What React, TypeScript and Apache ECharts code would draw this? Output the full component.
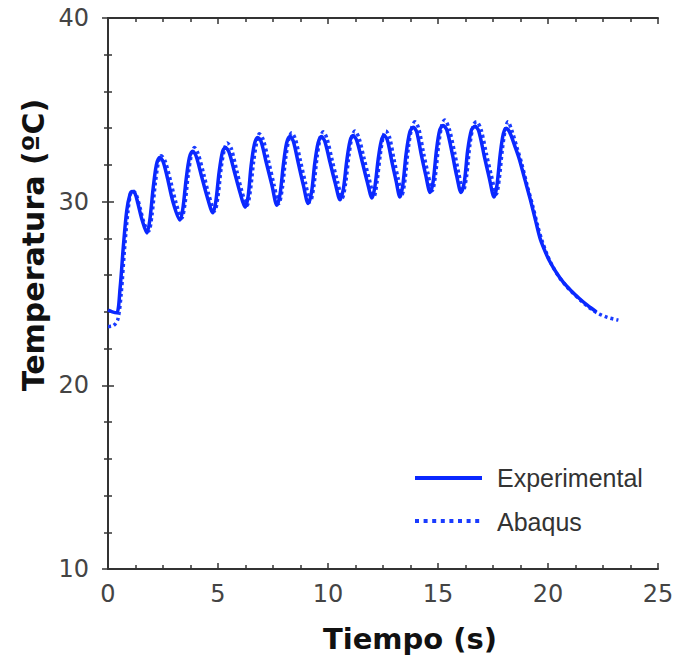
import React, { useEffect, useRef } from "react";
import * as echarts from "echarts";

const expTime = [0, 0.2, 0.4, 0.55, 0.7, 0.85, 1.0, 1.1, 1.23, 1.36, 1.55, 1.77, 1.9, 2.05, 2.2, 2.35, 2.5, 2.7, 2.95, 3.27, 3.4, 3.55, 3.7, 3.85, 4.0, 4.25, 4.5, 4.77, 4.9, 5.05, 5.2, 5.33, 5.5, 5.75, 6.0, 6.23, 6.37, 6.5, 6.65, 6.8, 6.95, 7.2, 7.45, 7.68, 7.82, 7.97, 8.12, 8.27, 8.42, 8.65, 8.88, 9.1, 9.25, 9.4, 9.55, 9.7, 9.85, 10.1, 10.33, 10.55, 10.7, 10.85, 11.0, 11.14, 11.3, 11.55, 11.78, 12.0, 12.13, 12.28, 12.42, 12.55, 12.7, 12.9, 13.1, 13.27, 13.4, 13.55, 13.72, 13.88, 14.03, 14.25, 14.45, 14.64, 14.78, 14.93, 15.08, 15.23, 15.4, 15.65, 15.85, 16.05, 16.2, 16.35, 16.52, 16.68, 16.85, 17.1, 17.33, 17.55, 17.68, 17.83, 17.97, 18.1, 18.25, 18.5, 18.7, 18.95, 19.2, 19.45, 19.64, 19.9, 20.1, 20.4, 20.7, 21.05, 21.45, 21.8, 22.2];
const expTemp = [24.1, 24.0, 23.95, 25.3, 27.6, 29.5, 30.4, 30.55, 30.45, 29.9, 29.0, 28.3, 29.0, 30.7, 32.0, 32.4, 32.2, 31.3, 30.0, 29.0, 29.6, 31.2, 32.4, 32.75, 32.5, 31.4, 30.3, 29.4, 30.0, 31.6, 32.7, 32.95, 32.7, 31.6, 30.5, 29.7, 30.3, 31.9, 33.1, 33.5, 33.3, 32.1, 30.9, 29.8, 30.4, 32.0, 33.2, 33.55, 33.3, 32.1, 30.9, 29.9, 30.5, 32.1, 33.2, 33.55, 33.3, 32.1, 31.0, 30.1, 30.7, 32.2, 33.3, 33.6, 33.35, 32.2, 31.1, 30.2, 30.8, 32.3, 33.3, 33.6, 33.35, 32.2, 31.1, 30.25, 30.9, 32.6, 33.8, 34.05, 33.8, 32.5, 31.4, 30.5, 31.1, 32.8, 33.9, 34.15, 33.9, 32.6, 31.4, 30.5, 31.1, 32.8, 33.9, 34.1, 33.85, 32.5, 31.3, 30.25, 30.9, 32.6, 33.7, 34.0, 33.8, 33.0, 32.3, 31.2, 30.1, 28.9, 28.0, 27.2, 26.7, 26.1, 25.6, 25.15, 24.7, 24.35, 24.0];

const abqTime = [0, 0.25, 0.45, 0.6, 0.75, 0.9, 1.02, 1.12, 1.28, 1.45, 1.65, 1.85, 2.0, 2.15, 2.3, 2.42, 2.6, 2.85, 3.1, 3.35, 3.5, 3.65, 3.8, 3.93, 4.1, 4.35, 4.6, 4.85, 5.0, 5.15, 5.3, 5.42, 5.6, 5.85, 6.1, 6.32, 6.47, 6.62, 6.77, 6.88, 7.05, 7.3, 7.55, 7.77, 7.92, 8.07, 8.22, 8.35, 8.52, 8.75, 8.98, 9.2, 9.35, 9.5, 9.65, 9.78, 9.95, 10.2, 10.43, 10.65, 10.8, 10.95, 11.1, 11.22, 11.4, 11.65, 11.88, 12.1, 12.23, 12.38, 12.52, 12.63, 12.8, 13.0, 13.2, 13.37, 13.5, 13.65, 13.82, 13.95, 14.12, 14.35, 14.55, 14.74, 14.88, 15.03, 15.18, 15.3, 15.5, 15.75, 15.95, 16.15, 16.3, 16.45, 16.62, 16.75, 16.95, 17.2, 17.43, 17.65, 17.78, 17.93, 18.07, 18.18, 18.35, 18.6, 18.8, 19.05, 19.3, 19.55, 19.75, 20.0, 20.2, 20.5, 20.8, 21.15, 21.55, 21.9, 22.3, 22.7, 23.2];
const abqTemp = [23.2, 23.25, 23.6, 25.0, 27.4, 29.4, 30.4, 30.6, 30.4, 29.7, 28.8, 28.4, 29.3, 31.0, 32.2, 32.5, 32.2, 31.1, 29.9, 29.1, 29.9, 31.5, 32.6, 32.95, 32.6, 31.5, 30.3, 29.5, 30.3, 31.9, 32.9, 33.2, 32.9, 31.7, 30.5, 29.8, 30.6, 32.2, 33.3, 33.7, 33.4, 32.2, 30.9, 29.9, 30.7, 32.3, 33.4, 33.75, 33.4, 32.2, 31.0, 30.0, 30.8, 32.4, 33.5, 33.8, 33.45, 32.2, 31.1, 30.2, 31.0, 32.5, 33.6, 33.85, 33.5, 32.3, 31.2, 30.3, 31.1, 32.6, 33.6, 33.85, 33.5, 32.3, 31.2, 30.4, 31.2, 32.9, 34.1, 34.35, 34.0, 32.6, 31.5, 30.6, 31.4, 33.1, 34.2, 34.45, 34.0, 32.7, 31.5, 30.6, 31.4, 33.1, 34.2, 34.35, 33.95, 32.6, 31.4, 30.4, 31.2, 32.9, 34.0, 34.35, 33.9, 32.9, 32.1, 30.9, 29.8, 28.6, 27.8, 27.0, 26.5, 25.9, 25.45, 25.0, 24.55, 24.2, 23.9, 23.7, 23.55];

const seriesNames = ["Experimental", "Abaqus"];
const xTitle = "Tiempo (s)";
const yTitle = "Temperatura (ºC)";

const zip = (a: number[], b: number[]) => a.map((v, i) => [v, b[i]]);

export default function App() {
  const ref = useRef<HTMLDivElement>(null);
  useEffect(() => {
    document.body.style.margin = "0";
    const chart = echarts.init(ref.current!, null, { renderer: "svg" });
    const axisLine = { show: true, lineStyle: { color: "#333", width: 2 } };
    const tickStyle = { color: "#333", width: 1.5 };
    const labelStyle = { fontFamily: "DejaVu Sans", fontSize: 24, color: "#444" };
    const xBase = { type: "value", min: 0, max: 25, interval: 5, splitLine: { show: false }, axisLine };
    const yBase = { type: "value", min: 10, max: 40, interval: 10, splitLine: { show: false }, axisLine };
    chart.setOption({
      animation: false,
      backgroundColor: "#fff",
      grid: { left: 108, right: 25, top: 18, bottom: 92 },
      xAxis: [
        {
          ...xBase,
          position: "bottom",
          axisTick: { show: true, inside: true, length: 6, lineStyle: tickStyle },
          minorTick: { show: true, splitNumber: 4, length: 4, lineStyle: tickStyle },
          axisLabel: { ...labelStyle, margin: 13 },
        },
        {
          ...xBase,
          position: "top",
          axisTick: { show: true, inside: true, length: 6, lineStyle: tickStyle },
          minorTick: { show: true, splitNumber: 4, length: 4, lineStyle: tickStyle },
          axisLabel: { show: false },
        },
      ],
      yAxis: [
        {
          ...yBase,
          position: "left",
          axisTick: { show: true, inside: true, length: 6, lineStyle: tickStyle },
          minorTick: { show: true, splitNumber: 5, length: 4, lineStyle: tickStyle },
          axisLabel: { ...labelStyle, margin: 19 },
        },
        {
          ...yBase,
          position: "right",
          axisTick: { show: true, inside: true, length: 6, lineStyle: tickStyle },
          minorTick: { show: true, splitNumber: 5, length: 4, lineStyle: tickStyle },
          axisLabel: { show: false },
        },
      ],
      graphic: [
        {
          type: "text",
          x: 410,
          y: 639,
          style: {
            text: xTitle,
            fontFamily: "DejaVu Sans",
            fontWeight: "bold",
            fontSize: 29,
            fill: "#111",
            align: "center",
            verticalAlign: "middle",
          },
        },
        {
          type: "text",
          x: 33,
          y: 245,
          rotation: Math.PI / 2,
          style: {
            text: yTitle,
            fontFamily: "DejaVu Sans",
            fontWeight: "bold",
            fontSize: 30,
            fill: "#111",
            align: "center",
            verticalAlign: "middle",
          },
        },
        {
          type: "line",
          shape: { x1: 415, y1: 478, x2: 482, y2: 478 },
          style: { stroke: "#0a28ff", lineWidth: 4 },
        },
        {
          type: "line",
          shape: { x1: 415, y1: 521, x2: 482, y2: 521 },
          style: { stroke: "#1a3cff", lineWidth: 4, lineDash: [4, 4.6] },
        },
        {
          type: "text",
          x: 497,
          y: 478,
          style: { text: seriesNames[0], fontFamily: "Liberation Sans", fontSize: 25, fill: "#333", verticalAlign: "middle" },
        },
        {
          type: "text",
          x: 497,
          y: 522,
          style: { text: seriesNames[1], fontFamily: "Liberation Sans", fontSize: 25, fill: "#333", verticalAlign: "middle" },
        },
      ],
      series: [
        {
          name: seriesNames[1],
          type: "line",
          data: zip(abqTime, abqTemp),
          showSymbol: false,
          smooth: 0.3,
          lineStyle: { color: "#1a3cff", width: 3.5, type: [3, 3] },
        },
        {
          name: seriesNames[0],
          type: "line",
          data: zip(expTime, expTemp),
          showSymbol: false,
          smooth: 0.3,
          lineStyle: { color: "#0a28ff", width: 3.5 },
        },
      ],
    });
    return () => chart.dispose();
  }, []);
  return <div ref={ref} style={{ width: 683, height: 661 }} />;
}
